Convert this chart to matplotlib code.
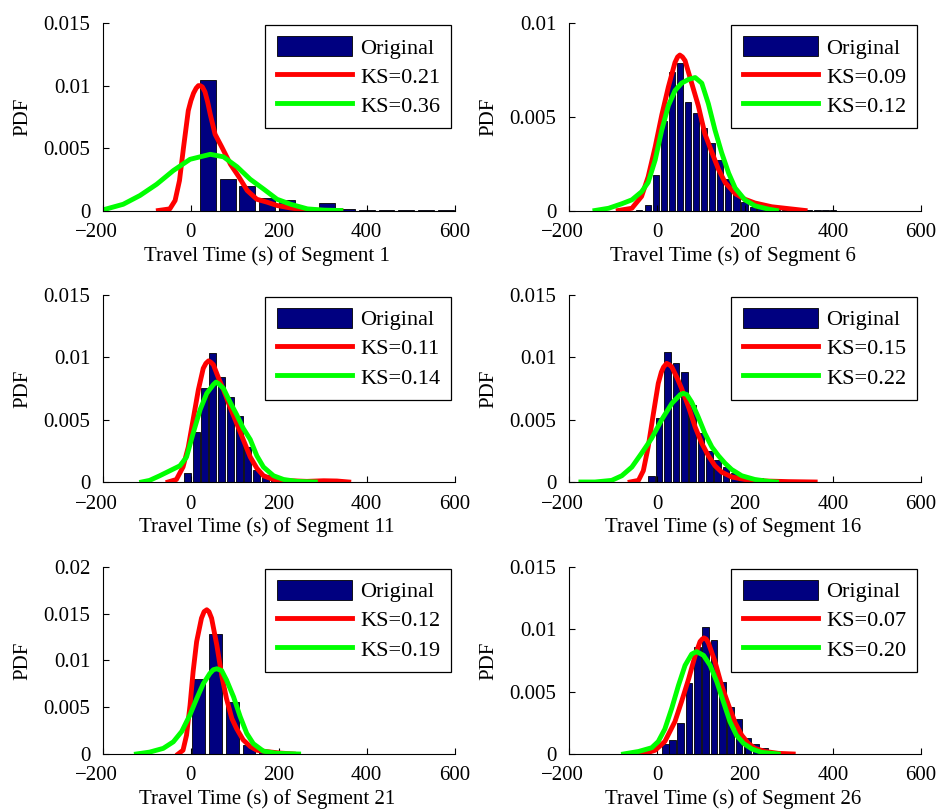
import numpy as np
import matplotlib.pyplot as plt
from matplotlib.transforms import ScaledTranslation

plt.rcParams['font.family'] = ['Liberation Serif', 'DejaVu Serif']

# ---- Segment 1 ----
seg1_bin_x = [39, 84, 128, 174, 219, 263, 310, 355, 400, 445, 490, 535, 580]
seg1_bin_pdf = [0.01045, 0.00253, 0.0020, 0.00101, 0.00088, 0.00027, 0.00061,
                0.0001, 0.00002, 0.00005, 0.00002, 0.00001, 0.00001]
seg1_red_x = [-74, -48, -36, -26, -17, -6, 0, 6, 12, 17, 21, 26, 32, 38, 44, 55,
              70, 90, 109, 128, 150, 173, 196, 227, 257, 303, 341]
seg1_red_y = [0, 0.00013, 0.0008, 0.0024, 0.0050, 0.0080, 0.0088, 0.0094, 0.0098,
              0.0100, 0.0100, 0.0099, 0.0095, 0.0087, 0.0077, 0.0061, 0.0051,
              0.0037, 0.0027, 0.0016, 0.0009, 0.00067, 0.0004, 0.0002, 0.00005,
              0, 0]
seg1_green_x = [-200, -154, -116, -78, -40, -2, 21, 44, 74, 105, 135, 166, 196,
                227, 265, 303, 341]
seg1_green_y = [0.00005, 0.0005, 0.0012, 0.0021, 0.0032, 0.0041, 0.0043, 0.0045,
                0.0043, 0.0035, 0.0025, 0.0017, 0.0009, 0.0005, 0.00013, 0.00003, 0]

# ---- Segment 6 ----
seg6_bin_x = [-41, -21, -2, 16, 34, 52, 70, 89, 107, 125, 144, 162, 181, 199, 218,
              236, 254, 273, 291, 309, 328, 346, 365, 383, 401]
seg6_bin_pdf = [0.00003, 0.0003, 0.0019, 0.0048, 0.0074, 0.0079, 0.0058, 0.0052,
                0.0044, 0.0036, 0.0027, 0.0017, 0.0009, 0.00044, 0.0002, 0.00012,
                0.00008, 0.00005, 0.00004, 0.00002, 0.00002, 0.00001, 0.00001,
                0.00001, 0.00001]
seg6_red_x = [-88, -57, -35, -20, -4, 11, 26, 41, 47, 52, 58, 64, 79, 94, 109, 125,
              140, 155, 178, 200, 223, 261, 299, 337]
seg6_red_y = [0, 0.00012, 0.00075, 0.0018, 0.0034, 0.0051, 0.0066, 0.0079, 0.0082,
              0.0083, 0.0082, 0.0080, 0.0068, 0.0056, 0.0041, 0.0031, 0.0022,
              0.0015, 0.0009, 0.0006, 0.0004, 0.0002, 0.0001, 0]
seg6_green_x = [-141, -110, -80, -57, -35, -20, -4, 11, 26, 41, 56, 72, 87, 102,
                117, 132, 147, 163, 178, 200, 223, 254, 272]
seg6_green_y = [0, 0.00012, 0.00036, 0.00057, 0.0010, 0.0015, 0.0027, 0.0043,
                0.0056, 0.0064, 0.0068, 0.0070, 0.0071, 0.0068, 0.0057, 0.0043,
                0.0031, 0.0020, 0.0012, 0.00057, 0.00025, 0.00007, 0]

# ---- Segment 11 ----
seg11_bin_x = [-7, 12, 30, 50, 69, 90, 110, 129, 149, 169, 190, 209, 228, 248,
               268, 287, 307, 327, 346, 366, 386, 405, 425, 445]
seg11_bin_pdf = [0.0007, 0.0040, 0.0075, 0.0103, 0.0084, 0.0068, 0.0053, 0.0028,
                 0.00094, 0.0006, 0.0005, 0.0003, 0.0002, 0.00015, 0.0001,
                 0.00008, 0.00005, 0.00003, 0.00002, 0.00002, 0.00001, 0.00002,
                 0.00004, 0.00003]
seg11_red_x = [-52, -33, -18, -6, 5, 17, 28, 34, 40, 45, 51, 62, 74, 89, 104, 119,
               135, 150, 165, 188, 226, 264, 302, 332, 359]
seg11_red_y = [0, 0.0002, 0.0012, 0.0028, 0.0050, 0.0074, 0.0091, 0.0095, 0.0097,
               0.0096, 0.0094, 0.0084, 0.0074, 0.0060, 0.0047, 0.0034, 0.0020,
               0.0011, 0.0005, 0.0002, 0.0001, 0.00005, 0.0001, 0.00008, 0]
seg11_green_x = [-112, -94, -71, -48, -25, -10, 5, 21, 36, 51, 57, 62, 74, 89, 104,
                 119, 135, 150, 165, 188, 211, 241, 283]
seg11_green_y = [0, 0.00013, 0.0005, 0.0009, 0.0013, 0.0020, 0.0039, 0.0058,
                 0.0071, 0.0078, 0.0080, 0.0079, 0.0075, 0.0064, 0.0054, 0.0043,
                 0.0034, 0.0021, 0.0012, 0.0005, 0.0002, 0.00005, 0]

# ---- Segment 16 ----
seg16_bin_x = [-12, 5, 24, 43, 62, 81, 100, 119, 138, 157, 176, 195, 214, 233,
               252, 271, 290, 309, 328, 347, 366, 385]
seg16_bin_pdf = [0.00048, 0.0051, 0.0104, 0.0095, 0.0088, 0.0062, 0.0039, 0.0025,
                 0.0018, 0.0012, 0.0007, 0.0005, 0.0004, 0.0003, 0.0002, 0.00015,
                 0.0001, 0.00007, 0.00005, 0.00003, 0.00003, 0.00002]
seg16_red_x = [-61, -42, -31, -20, -8, 3, 10, 15, 22, 28, 34, 45, 56, 72, 87, 102,
               117, 132, 147, 170, 200, 246, 299, 360]
seg16_red_y = [0, 0.00013, 0.0009, 0.0028, 0.0055, 0.0079, 0.0088, 0.0092, 0.0095,
               0.0094, 0.0092, 0.0084, 0.0075, 0.0060, 0.0044, 0.0031, 0.0021,
               0.0013, 0.0008, 0.0004, 0.0002, 0.00008, 0.00003, 0]
seg16_green_x = [-173, -141, -103, -80, -57, -35, -12, 11, 34, 53, 60, 68, 79, 94,
                 109, 125, 140, 155, 170, 193, 223, 254, 272]
seg16_green_y = [0, 0, 0.00013, 0.0005, 0.0012, 0.0023, 0.0035, 0.0050, 0.0063,
                 0.0070, 0.0071, 0.0070, 0.0064, 0.0052, 0.0039, 0.0028, 0.0021,
                 0.0015, 0.0010, 0.0005, 0.0002, 0.00005, 0]

# ---- Segment 21 ----
seg21_bin_x = [18, 56, 94, 132, 170, 208, 246, 284]
seg21_bin_pdf = [0.0080, 0.0128, 0.0056, 0.0010, 0.0004, 0.00005, 0.00002, 0.00005]
seg21_red_x = [-29, -18, -10, -2, 5, 13, 24, 30, 36, 41, 47, 59, 70, 81, 93, 104,
               119, 135, 150, 173, 203, 233]
seg21_red_y = [0, 0.0004, 0.0020, 0.0052, 0.0088, 0.0120, 0.0145, 0.0152, 0.0154,
               0.0152, 0.0145, 0.0116, 0.0084, 0.0059, 0.0038, 0.0027, 0.0015,
               0.0008, 0.0004, 0.00025, 0.0001, 0]
seg21_green_x = [-124, -94, -63, -40, -21, -2, 13, 28, 43, 51, 59, 70, 81, 97, 112,
                 127, 142, 165, 195, 245]
seg21_green_y = [0, 0.0002, 0.0006, 0.0013, 0.0024, 0.0042, 0.0059, 0.0075, 0.0086,
                 0.0090, 0.0091, 0.0089, 0.0079, 0.0061, 0.0040, 0.0022, 0.0011,
                 0.0003, 0.00007, 0]

# ---- Segment 26 ----
seg26_bin_x = [19, 36, 54, 73, 92, 111, 130, 149, 168, 187, 206, 225, 244, 263,
               282, 301, 320, 339, 358, 377, 396, 415, 434]
seg26_bin_pdf = [0.0008, 0.0011, 0.0025, 0.0057, 0.0086, 0.0102, 0.0091, 0.0058,
                 0.0038, 0.0028, 0.0013, 0.0008, 0.0005, 0.0002, 0.0001, 0.00005,
                 0.00003, 0.00003, 0.00002, 0.00002, 0.00003, 0.00002, 0.00002]
seg26_red_x = [-57, -27, -4, 18, 41, 56, 72, 87, 98, 103, 107, 112, 117, 132, 147,
               163, 178, 193, 208, 223, 246, 276, 310]
seg26_red_y = [0, 0.00005, 0.0003, 0.0010, 0.0026, 0.0042, 0.0060, 0.0079, 0.0090,
               0.0092, 0.0093, 0.0092, 0.0089, 0.0074, 0.0055, 0.0039, 0.0025,
               0.0015, 0.00085, 0.00045, 0.0002, 0.00005, 0]
seg26_green_x = [-76, -42, -12, 3, 18, 34, 49, 64, 79, 90, 106, 121, 136, 151, 166,
                 181, 197, 216, 238, 276]
seg26_green_y = [0, 0.0002, 0.0005, 0.0010, 0.0020, 0.0037, 0.0055, 0.0071, 0.0080,
                 0.0082, 0.0079, 0.0071, 0.0058, 0.0042, 0.0026, 0.0015, 0.00085,
                 0.0004, 0.00013, 0]

segments = [1, 6, 11, 16, 21, 26]
bin_widths = [36, 14.6, 15.7, 15.2, 29, 15.2]
ks_red = ['0.21', '0.09', '0.11', '0.15', '0.12', '0.07']
ks_green = ['0.36', '0.12', '0.14', '0.22', '0.19', '0.20']
y_max = [0.015, 0.01, 0.015, 0.015, 0.02, 0.015]

bins = [(seg1_bin_x, seg1_bin_pdf), (seg6_bin_x, seg6_bin_pdf),
        (seg11_bin_x, seg11_bin_pdf), (seg16_bin_x, seg16_bin_pdf),
        (seg21_bin_x, seg21_bin_pdf), (seg26_bin_x, seg26_bin_pdf)]
reds = [(seg1_red_x, seg1_red_y), (seg6_red_x, seg6_red_y),
        (seg11_red_x, seg11_red_y), (seg16_red_x, seg16_red_y),
        (seg21_red_x, seg21_red_y), (seg26_red_x, seg26_red_y)]
greens = [(seg1_green_x, seg1_green_y), (seg6_green_x, seg6_green_y),
          (seg11_green_x, seg11_green_y), (seg16_green_x, seg16_green_y),
          (seg21_green_x, seg21_green_y), (seg26_green_x, seg26_green_y)]

fig = plt.figure(figsize=(9.39, 8.09), dpi=100)
lefts = [0.1097, 0.606]
bottoms = [0.7398, 0.4042, 0.068]

fs = 15
for i in range(6):
    row, col = divmod(i, 2)
    ax = fig.add_axes([lefts[col], bottoms[row], 0.3745, 0.2315])
    bx, by = bins[i]
    b = ax.bar(bx, by, width=bin_widths[i], color='#000080', edgecolor='black',
               linewidth=0.6)
    r, = ax.plot(reds[i][0], reds[i][1], color='#ff0000', lw=3.5,
                 solid_joinstyle='round')
    g, = ax.plot(greens[i][0], greens[i][1], color='#00ff00', lw=3.5,
                 solid_joinstyle='round')

    ax.set_xlim(-200, 600)
    ax.set_ylim(0, y_max[i])
    ax.set_xticks([-200, 0, 200, 400, 600])
    yt = [0, 0.005, 0.01, 0.015, 0.02]
    yt = [t for t in yt if t <= y_max[i] + 1e-9]
    ax.set_yticks(yt)
    ax.set_yticklabels(['0' if t == 0 else ('%g' % t) for t in yt])
    ax.spines['top'].set_visible(False)
    ax.spines['right'].set_visible(False)
    for s in ['left', 'bottom']:
        ax.spines[s].set_linewidth(0.8)
    ax.tick_params(direction='in', length=4, width=0.8, labelsize=fs)
    ax.tick_params(axis='x', pad=9)
    ax.tick_params(axis='y', pad=9)
    # the -200 label sits a little left of its tick, as in the original
    first = ax.get_xticklabels()[0]
    first.set_transform(first.get_transform() +
                        ScaledTranslation(-0.07, 0, fig.dpi_scale_trans))
    ax.set_xlabel('Travel Time (s) of Segment %d' % segments[i], fontsize=fs)
    ax.xaxis.set_label_coords(0.466, -0.19)
    ax.set_ylabel('PDF', fontsize=fs, labelpad=8)

    leg = ax.legend([b, r, g], ['Original', 'KS=' + ks_red[i], 'KS=' + ks_green[i]],
                    loc='upper right', bbox_to_anchor=(0.99, 0.99),
                    borderaxespad=0, fontsize=fs + 1, fancybox=False,
                    framealpha=1, edgecolor='black', handlelength=3.4,
                    handleheight=1.0, handletextpad=0.35, borderpad=0.5,
                    labelspacing=0.3)
    leg.get_frame().set_linewidth(0.9)

fig.savefig('out.png', dpi=100)
